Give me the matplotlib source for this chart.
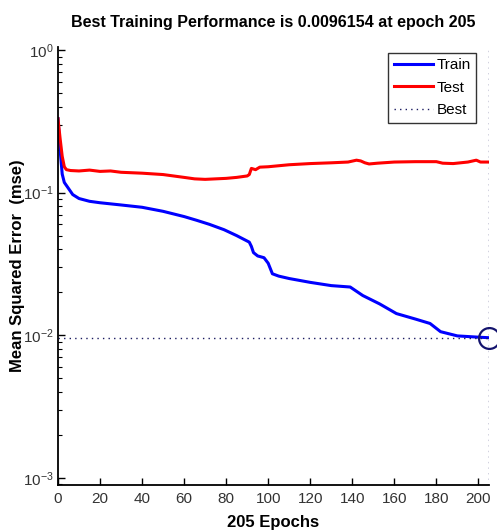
import numpy as np
import matplotlib
matplotlib.use('Agg')
import matplotlib.pyplot as plt

# values (epoch, mse)
train_epochs = [0, 1, 2, 3, 5, 7, 10, 15, 20, 30, 40, 50, 60, 66, 72, 79, 85, 91, 92, 93,
                95, 98, 100, 102, 105, 110, 120, 130, 139, 145, 153, 161, 170, 177, 182,
                190, 200, 205]
train_mse = [0.33, 0.20, 0.135, 0.118, 0.107, 0.097, 0.091, 0.087, 0.085, 0.082, 0.079,
             0.074, 0.068, 0.064, 0.060, 0.055, 0.050, 0.045, 0.042, 0.038, 0.036, 0.035,
             0.032, 0.027, 0.026, 0.025, 0.0235, 0.0223, 0.0218, 0.019, 0.0166, 0.0142,
             0.013, 0.0121, 0.0106, 0.0099, 0.0097, 0.0096154]

test_epochs = [0, 1, 2, 3, 4, 6, 10, 15, 20, 25, 30, 40, 50, 60, 65, 70, 75, 80, 85, 90,
               91, 92, 94, 96, 100, 110, 120, 130, 138, 142, 144, 146, 148, 152, 160, 170,
               180, 183, 188, 195, 199, 201, 205]
test_mse = [0.33, 0.24, 0.18, 0.152, 0.145, 0.143, 0.142, 0.144, 0.141, 0.142, 0.139,
            0.137, 0.134, 0.128, 0.125, 0.124, 0.125, 0.126, 0.128, 0.131, 0.134, 0.148,
            0.145, 0.151, 0.152, 0.157, 0.160, 0.162, 0.164, 0.169, 0.167, 0.162, 0.159,
            0.161, 0.164, 0.165, 0.165, 0.161, 0.160, 0.164, 0.169, 0.164, 0.164]

best_epoch = 205
best_perf = 0.0096154

plt.rcParams['font.family'] = ['Liberation Sans', 'DejaVu Sans']
plt.rcParams['mathtext.default'] = 'regular'

fig = plt.figure(figsize=(4.97, 5.31), dpi=100)
ax = fig.add_axes([0.1167, 0.0866, 0.867, 0.825])

ax.plot(train_epochs, train_mse, color='#0000ff', lw=2.2, label='Train')
ax.plot(test_epochs, test_mse, color='#ff0000', lw=2.2, label='Test')
ax.axhline(best_perf, color='#1a1a60', lw=1, ls=(0, (1, 3)), label='Best')
ax.axvline(best_epoch, color='#1a1a60', lw=1, ls=(0, (1, 3)))
ax.plot([best_epoch], [best_perf], 'o', ms=15, mfc='none', mec='#14146e', mew=1.6,
        clip_on=False)

ax.set_yscale('log')
ax.set_xlim(0, 205)
ax.set_ylim(10 ** -3.05, 10 ** 0.022)
ax.set_xticks(np.arange(0, 201, 20))
ax.set_yticks([1e-3, 1e-2, 1e-1, 1])
ax.set_yticklabels(['$10^{-3}$', '$10^{-2}$', '$10^{-1}$', '$10^{0}$'])

for s in ['top', 'right']:
    ax.spines[s].set_visible(False)
for s in ['left', 'bottom']:
    ax.spines[s].set_linewidth(1.3)

ax.tick_params(which='both', direction='in', labelsize=11, labelcolor='#333333')
ax.tick_params(which='major', length=5, width=1)
ax.tick_params(which='minor', length=3, width=0.8)
ax.tick_params(axis='x', pad=5)
ax.tick_params(axis='y', pad=3)

ax.set_title('Best Training Performance is 0.0096154 at epoch 205', fontsize=11.5,
             fontweight='bold', pad=14)
ax.set_xlabel('205 Epochs', fontsize=12, fontweight='bold', va='center')
ax.xaxis.set_label_coords(0.5, -0.085)
ax.set_ylabel('Mean Squared Error  (mse)', fontsize=12, fontweight='bold', va='center')
ax.yaxis.set_label_coords(-0.093, 0.5)

leg = ax.legend(loc='upper right', bbox_to_anchor=(0.97, 0.986), fontsize=11,
                frameon=True, fancybox=False, handlelength=2.6, handletextpad=0.2,
                labelspacing=0.55, borderpad=0.35, borderaxespad=0)
leg.get_frame().set_edgecolor('black')
leg.get_frame().set_linewidth(1)

fig.savefig('out.png', dpi=100)
